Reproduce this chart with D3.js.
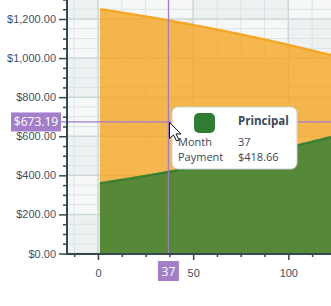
<!DOCTYPE html>
<meta charset="utf-8">
<style>
	body { margin: 0; background: #fff; }
	svg { display: block; font-family: "Open Sans", sans-serif; }
	.axis text { fill: #3f5063; font-size: 11px; }
	.axis line { stroke: #33494f; }
	.tip text { fill: #3a4656; font-size: 11px; }
</style>
<svg width="331" height="306"></svg>
<script src="https://d3js.org/d3.v7.min.js"></script>
<script>
	// data: monthly payment split (principal / interest), months 1..125
	var months = d3.range(1, 126);
	var principal = [
		360.46, 361.96, 363.47, 364.98, 366.50, 368.03, 369.56, 371.10, 372.65, 374.20,
		375.76, 377.33, 378.90, 380.48, 382.06, 383.65, 385.25, 386.86, 388.47, 390.09,
		391.71, 393.34, 394.98, 396.63, 398.28, 399.94, 401.61, 403.28, 404.96, 406.65,
		408.34, 410.04, 411.75, 413.47, 415.19, 416.92, 418.66, 420.40, 422.15, 423.91,
		425.68, 427.45, 429.23, 431.02, 432.82, 434.62, 436.43, 438.25, 440.08, 441.91,
		443.75, 445.60, 447.46, 449.32, 451.19, 453.07, 454.96, 456.86, 458.76, 460.67,
		462.59, 464.52, 466.46, 468.40, 470.35, 472.31, 474.28, 476.26, 478.24, 480.23,
		482.23, 484.24, 486.26, 488.29, 490.32, 492.36, 494.41, 496.47, 498.54, 500.62,
		502.71, 504.80, 506.90, 509.01, 511.13, 513.26, 515.40, 517.55, 519.71, 521.88,
		524.05, 526.23, 528.42, 530.62, 532.83, 535.05, 537.28, 539.52, 541.77, 544.03,
		546.30, 548.58, 550.87, 553.17, 555.47, 557.78, 560.10, 562.43, 564.77, 567.12,
		569.48, 571.85, 574.23, 576.62, 579.02, 581.43, 583.85, 586.28, 588.72, 591.17,
		593.63, 596.10, 598.58, 601.07, 603.57
	];
	var interest = [
		1250.00, 1248.50, 1246.99, 1245.48, 1243.96, 1242.43, 1240.90, 1239.36, 1237.81, 1236.26,
		1234.70, 1233.13, 1231.56, 1229.98, 1228.40, 1226.81, 1225.21, 1223.60, 1221.99, 1220.37,
		1218.75, 1217.12, 1215.48, 1213.83, 1212.18, 1210.52, 1208.85, 1207.18, 1205.50, 1203.81,
		1202.12, 1200.42, 1198.71, 1196.99, 1195.27, 1193.54, 1191.80, 1190.06, 1188.31, 1186.55,
		1184.78, 1183.01, 1181.23, 1179.44, 1177.64, 1175.84, 1174.03, 1172.21, 1170.38, 1168.55,
		1166.71, 1164.86, 1163.00, 1161.14, 1159.27, 1157.39, 1155.50, 1153.60, 1151.70, 1149.79,
		1147.87, 1145.94, 1144.00, 1142.06, 1140.11, 1138.15, 1136.18, 1134.20, 1132.22, 1130.23,
		1128.23, 1126.22, 1124.20, 1122.17, 1120.14, 1118.10, 1116.05, 1113.99, 1111.92, 1109.84,
		1107.75, 1105.66, 1103.56, 1101.45, 1099.33, 1097.20, 1095.06, 1092.91, 1090.75, 1088.58,
		1086.41, 1084.23, 1082.04, 1079.84, 1077.63, 1075.41, 1073.18, 1070.94, 1068.69, 1066.43,
		1064.16, 1061.88, 1059.59, 1057.29, 1054.99, 1052.68, 1050.36, 1048.03, 1045.69, 1043.34,
		1040.98, 1038.61, 1036.23, 1033.84, 1031.44, 1029.03, 1026.61, 1024.18, 1021.74, 1019.29,
		1016.83, 1014.36, 1011.88, 1009.39, 1006.89
	];
	var xMajor = [0, 50, 100];
	var xMinor = [-12.5, 12.5, 25, 37.5, 62.5, 75, 87.5, 112.5, 125];
	var yMajor = [0, 200, 400, 600, 800, 1000, 1200];
	var yMinor = [50, 100, 150, 250, 300, 350, 450, 500, 550, 650, 700, 750, 850, 900, 950, 1050, 1100, 1150, 1250, 1300];
	// crosshair / tooltip state
	var hoverMonth = 37;
	var hoverValue = 673.19;
	var hoverSeries = "Principal";

	var data = months.map(function(m, i) {
		return {month: m, principal: principal[i], interest: interest[i]};
	});

	// scales
	var plot = {left: 67, right: 340, top: -10, bottom: 254};
	var x = d3.scaleLinear().domain([0, 100]).range([98, 288.3]);
	var y = d3.scaleLinear().domain([0, 1200]).range([253.5, 19]);

	var svg = d3.select("svg");
	svg.append("clipPath").attr("id", "clip")
		.append("rect")
		.attr("x", plot.left).attr("y", plot.top)
		.attr("width", plot.right - plot.left).attr("height", plot.bottom - plot.top);

	var inner = svg.append("g").attr("clip-path", "url(#clip)");

	// checkered background between major grid lines
	var cols = [-100, -50, 0, 50, 100, 150];
	var rows = [0, 200, 400, 600, 800, 1000, 1200, 1400];
	cols.forEach(function(c, ci) {
		rows.forEach(function(r, ri) {
			inner.append("rect")
				.attr("x", x(c)).attr("width", x(c + 50) - x(c))
				.attr("y", y(r + 200)).attr("height", y(r) - y(r + 200))
				.attr("fill", (ci + ri) % 2 ? "#edf1f1" : "#f6f8f8");
		});
	});

	// grid
	inner.append("g").selectAll("line")
		.data(xMinor).enter().append("line")
		.attr("x1", x).attr("x2", x)
		.attr("y1", plot.top).attr("y2", plot.bottom)
		.attr("stroke", "#dbe4e4").attr("stroke-width", 1);
	inner.append("g").selectAll("line")
		.data(yMinor).enter().append("line")
		.attr("y1", y).attr("y2", y)
		.attr("x1", plot.left).attr("x2", plot.right)
		.attr("stroke", "#dbe4e4").attr("stroke-width", 1);
	inner.append("g").selectAll("line")
		.data(xMajor).enter().append("line")
		.attr("x1", x).attr("x2", x)
		.attr("y1", plot.top).attr("y2", plot.bottom)
		.attr("stroke", "#cbd7d7").attr("stroke-width", 1.5);
	inner.append("g").selectAll("line")
		.data(yMajor).enter().append("line")
		.attr("y1", y).attr("y2", y)
		.attr("x1", plot.left).attr("x2", plot.right)
		.attr("stroke", "#cbd7d7").attr("stroke-width", 1.5);

	// series
	var areaI = d3.area().curve(d3.curveStepAfter)
		.x(function(d) { return x(d.month); })
		.y0(y(0)).y1(function(d) { return y(d.interest); });
	var lineI = d3.line().curve(d3.curveStepAfter)
		.x(function(d) { return x(d.month); })
		.y(function(d) { return y(d.interest); });
	var areaP = d3.area().curve(d3.curveStepAfter)
		.x(function(d) { return x(d.month); })
		.y0(y(0)).y1(function(d) { return y(d.principal); });
	var lineP = d3.line().curve(d3.curveStepAfter)
		.x(function(d) { return x(d.month); })
		.y(function(d) { return y(d.principal); });

	inner.append("path").datum(data).attr("d", areaI)
		.attr("fill", "#f5a623").attr("fill-opacity", 0.8);
	inner.append("path").datum(data).attr("d", lineI)
		.attr("fill", "none").attr("stroke", "#f5a623").attr("stroke-width", 2);
	inner.append("path").datum(data).attr("d", areaP)
		.attr("fill", "#2e7d32").attr("fill-opacity", 0.8);
	inner.append("path").datum(data).attr("d", lineP)
		.attr("fill", "none").attr("stroke", "#2e7d32").attr("stroke-opacity", 0.9).attr("stroke-width", 2);

	// crosshair
	var purple = "#9e7bcc";
	inner.append("line")
		.attr("x1", x(hoverMonth)).attr("x2", x(hoverMonth))
		.attr("y1", plot.top).attr("y2", plot.bottom)
		.attr("stroke", purple).attr("stroke-width", 1.2);
	svg.append("line")
		.attr("x1", 60).attr("x2", 331)
		.attr("y1", y(hoverValue)).attr("y2", y(hoverValue))
		.attr("stroke", purple).attr("stroke-width", 1.2);

	// axes
	var gy = svg.append("g").attr("class", "axis")
		.attr("transform", "translate(" + plot.left + ",0)");
	gy.append("g").call(d3.axisLeft(y).tickValues(yMajor).tickSize(8).tickPadding(3)
		.tickFormat(d3.format("$,.2f")))
		.call(function(g) { g.select(".domain").remove(); });
	gy.append("g").call(d3.axisLeft(y).tickValues(yMinor).tickSize(4).tickFormat(""))
		.call(function(g) { g.select(".domain").remove(); });
	gy.selectAll("line").attr("stroke-width", 1.5);
	gy.append("line").attr("y1", 0).attr("y2", plot.bottom + 1)
		.attr("stroke", "#33494f").attr("stroke-width", 2);

	var gx = svg.append("g").attr("class", "axis")
		.attr("transform", "translate(0," + plot.bottom + ")");
	gx.append("g").call(d3.axisBottom(x).tickValues(xMajor).tickSize(6).tickPadding(9))
		.call(function(g) { g.select(".domain").remove(); });
	gx.append("g").call(d3.axisBottom(x).tickValues(xMinor).tickSize(3).tickFormat(""))
		.call(function(g) { g.select(".domain").remove(); });
	gx.selectAll("line").attr("stroke-width", 1.5);
	gx.append("line").attr("x1", plot.left - 1).attr("x2", 331)
		.attr("stroke", "#33494f").attr("stroke-width", 2);

	// crosshair labels
	var yl = svg.append("g").attr("transform", "translate(11," + (y(hoverValue) - 9.5) + ")");
	yl.append("rect").attr("width", 50).attr("height", 19).attr("fill", "#a37fca");
	yl.append("text").attr("x", 25).attr("y", 13.5).attr("text-anchor", "middle")
		.attr("fill", "#fff").style("font-size", "12px").text(d3.format("$,.2f")(hoverValue));
	var xl = svg.append("g").attr("transform", "translate(" + (x(hoverMonth) - 10.5) + ",261)");
	xl.append("rect").attr("width", 21).attr("height", 20).attr("fill", "#a37fca");
	xl.append("text").attr("x", 10.5).attr("y", 14.5).attr("text-anchor", "middle")
		.attr("fill", "#fff").style("font-size", "12px").text(hoverMonth);

	// tooltip
	var hp = data[hoverMonth - 1];
	var tip = svg.append("g").attr("class", "tip").attr("transform", "translate(172,107)");
	tip.append("rect").attr("width", 125).attr("height", 62).attr("rx", 6)
		.attr("fill", "#fff").attr("stroke", "#cdd3d8");
	tip.append("rect").attr("x", 22).attr("y", 6).attr("width", 21).attr("height", 20).attr("rx", 5)
		.attr("fill", "#2e7d32");
	tip.append("text").attr("x", 66).attr("y", 18).style("font-weight", "bold")
		.style("font-size", "11.5px").text(hoverSeries);
	tip.append("text").attr("x", 6).attr("y", 39).text("Month");
	tip.append("text").attr("x", 66).attr("y", 39).text(hp.month);
	tip.append("text").attr("x", 6).attr("y", 54).text("Payment");
	tip.append("text").attr("x", 66).attr("y", 54).text(d3.format("$,.2f")(hp.principal));

	// mouse pointer
	svg.append("path")
		.attr("transform", "translate(169.5," + (y(hoverValue) + 0.5) + ")")
		.attr("d", "M0,0 L0,16 L4,12.5 L7,18.5 L9.5,17.5 L6.5,11.5 L11.5,11.5 Z")
		.attr("fill", "#fff").attr("stroke", "#111").attr("stroke-width", 1)
		.attr("stroke-linejoin", "round");
</script>
